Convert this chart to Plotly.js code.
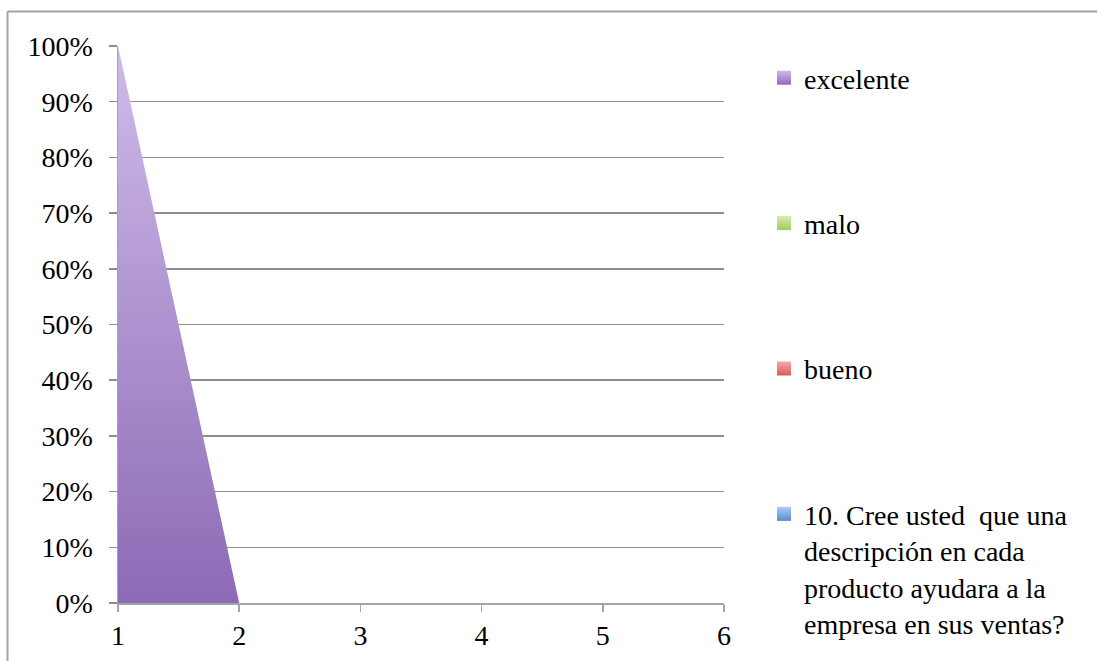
<!DOCTYPE html>
<html>
<head>
<meta charset="utf-8">
<script src="https://cdn.plot.ly/plotly-3.0.1.min.js"></script>
<style>
  html, body { margin: 0; padding: 0; background: #fff; }
  #chart { width: 1097px; height: 661px; }
</style>
</head>
<body>
<div id="chart"></div>
<script>
// Category positions along the horizontal axis
const categories = [1, 2, 3, 4, 5, 6];
const categoryLabels = ['1', '2', '3', '4', '5', '6'];

// Series values, in percent of each category (100% stacked area)
const excelente = [100, 0, 0, 0, 0, 0];
const malo = [0, 0, 0, 0, 0, 0];
const bueno = [0, 0, 0, 0, 0, 0];
const pregunta10 = [0, 0, 0, 0, 0, 0];

// Series names as shown in the legend
const seriesNames = [
  'excelente',
  'malo',
  'bueno',
  '10. Cree usted  que una<br>descripción en cada<br>producto ayudara a la<br>empresa en sus ventas?'
];

// Percentage scale ticks
const percentTicks = [0, 10, 20, 30, 40, 50, 60, 70, 80, 90, 100];
const percentLabels = percentTicks.map(v => v + '%');

// Light (top) and dark (bottom) shades for each series
const palette = [
  { light: '#cfbcea', dark: '#8d6ab5' },
  { light: '#d8ecab', dark: '#a5c866' },
  { light: '#f6aaa8', dark: '#d85c58' },
  { light: '#abcaf2', dark: '#5a8dcf' }
];

const seriesValues = [excelente, malo, bueno, pregunta10];

const FONT = "'Liberation Serif', 'DejaVu Serif', serif";

// Geometry of the plotting area (pixels)
const W = 1097, H = 661;
const M = { l: 118, r: 373, t: 46, b: 58 };
const PW = W - M.l - M.r, PH = H - M.t - M.b;
const px2x = p => (p - M.l) / PW;
const py2y = p => (H - M.b - p) / PH;

const traces = [];

// Stacked areas
seriesValues.forEach((vals, i) => {
  traces.push({
    type: 'scatter',
    mode: 'lines',
    x: categories,
    y: vals,
    stackgroup: 'one',
    line: { width: 0 },
    fillgradient: {
      type: 'vertical',
      start: 0,
      stop: 100,
      colorscale: [[0, palette[i].dark], [1, palette[i].light]]
    },
    name: seriesNames[i],
    legendgroup: 'g' + i,
    showlegend: false,
    hoverinfo: 'skip'
  });
});

// Square legend keys for the series
seriesValues.forEach((vals, i) => {
  traces.push({
    type: 'scatter',
    mode: 'markers',
    x: [null],
    y: [null],
    name: seriesNames[i],
    legendgroup: 'g' + i,
    marker: {
      symbol: 'square',
      size: 14,
      color: palette[i].light,
      gradient: { type: 'vertical', color: palette[i].dark },
      line: { width: 0 }
    },
    hoverinfo: 'skip'
  });
});

const gridColor = '#8e8e8e';

const layout = {
  width: W,
  height: H,
  margin: M,
  paper_bgcolor: '#ffffff',
  plot_bgcolor: '#ffffff',
  font: { family: FONT, size: 28, color: '#000000' },
  showlegend: true,
  legend: {
    x: px2x(764),
    xanchor: 'left',
    y: py2y(53),
    yanchor: 'top',
    traceorder: 'grouped',
    tracegroupgap: 106,
    valign: 'top',
    maxheight: 640,
    font: { family: FONT, size: 28, color: '#000000' },
    bgcolor: 'rgba(0,0,0,0)',
    borderwidth: 0
  },
  xaxis: {
    type: 'linear',
    range: [1, 6],
    tickvals: categories,
    ticktext: categoryLabels,
    showgrid: false,
    zeroline: false,
    showline: true,
    linecolor: '#a4a4a4',
    linewidth: 1.5,
    ticks: 'outside',
    ticklen: 7,
    tickwidth: 1.5,
    tickcolor: '#a4a4a4',
    tickfont: { family: FONT, size: 28, color: '#000000' },
    fixedrange: true
  },
  yaxis: {
    range: [0, 100],
    tickvals: percentTicks,
    ticktext: percentLabels,
    showgrid: true,
    gridcolor: gridColor,
    gridwidth: 1.5,
    zeroline: false,
    showline: true,
    linecolor: '#a4a4a4',
    linewidth: 1.5,
    ticks: 'outside',
    ticklen: 8,
    tickwidth: 1.5,
    tickcolor: gridColor,
    ticklabelstandoff: 10,
    tickfont: { family: FONT, size: 28, color: '#000000' },
    fixedrange: true
  },
  shapes: [
    // chart frame, left and top edges
    {
      type: 'line', xref: 'paper', yref: 'paper',
      x0: px2x(7.5), x1: px2x(7.5), y0: py2y(11.5), y1: py2y(H + 10),
      line: { color: '#a3a3a3', width: 2 }
    },
    {
      type: 'line', xref: 'paper', yref: 'paper',
      x0: px2x(7.5), x1: px2x(W + 10), y0: py2y(11.5), y1: py2y(11.5),
      line: { color: '#a3a3a3', width: 2 }
    }
  ]
};

Plotly.newPlot('chart', traces, layout, { staticPlot: true, displayModeBar: false });
</script>
</body>
</html>
